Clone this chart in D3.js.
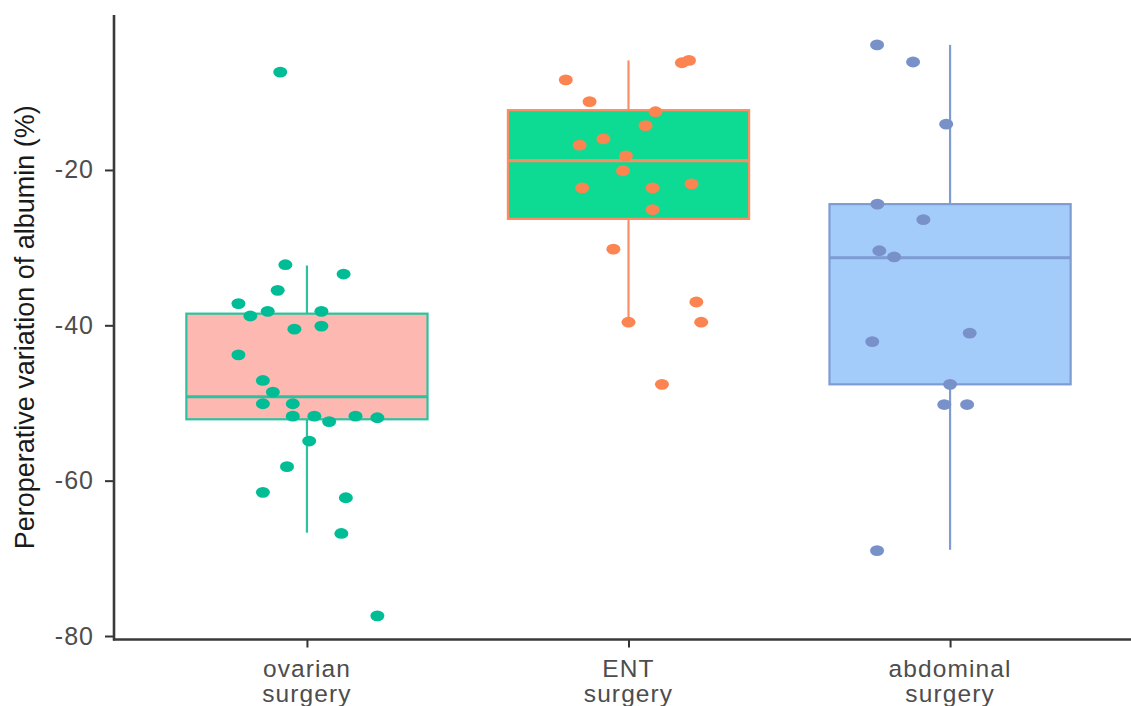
<!DOCTYPE html>
<html>
<head>
<meta charset="utf-8">
<script src="https://cdn.jsdelivr.net/npm/d3@7"></script>
<style>
  body { margin: 0; background: #ffffff; }
  svg { display: block; }
</style>
</head>
<body>
<svg id="chart" width="1131" height="706"></svg>
<script>
// Surgery groups on the x axis
const categories = ["ovarian surgery", "ENT surgery", "abdominal surgery"];
const categoryLines = [["ovarian", "surgery"], ["ENT", "surgery"], ["abdominal", "surgery"]];

// Individual patients: perioperative variation of albumin (%) and horizontal jitter (fraction of category step)
const ovarianValues = [-7.4, -32.2, -33.4, -35.5, -37.2, -38.8, -38.2, -38.2, -40.5, -40.1,
  -43.8, -47.1, -48.6, -50.1, -50.1, -51.7, -51.7, -52.4, -51.7, -51.9,
  -54.9, -58.2, -61.5, -62.2, -66.8, -77.4];
const ovarianJitter = [-0.083, -0.067, 0.114, -0.091, -0.213, -0.176, -0.122, 0.045, -0.039, 0.045,
  -0.213, -0.137, -0.106, -0.137, -0.044, -0.044, 0.023, 0.069, 0.151, 0.219,
  0.007, -0.062, -0.137, 0.121, 0.107, 0.219];

const entValues = [-8.4, -6.2, -5.9, -11.2, -12.5, -14.3, -16.0, -16.8, -18.2, -20.1,
  -22.3, -22.3, -21.8, -25.1, -30.2, -37.0, -39.6, -39.6, -47.6];
const entJitter = [-0.195, 0.166, 0.188, -0.121, 0.084, 0.053, -0.078, -0.152, -0.008, -0.017,
  -0.144, 0.075, 0.196, 0.075, -0.047, 0.211, 0.0, 0.226, 0.104];

const abdominalValues = [-3.9, -6.1, -14.1, -24.4, -26.4, -30.4, -31.2, -42.1, -41.0, -47.6,
  -50.2, -50.2, -69.0];
const abdominalJitter = [-0.227, -0.115, -0.012, -0.226, -0.083, -0.220, -0.174, -0.242, 0.061, 0.0,
  -0.018, 0.053, -0.227];

// Box statistics per group
const boxQ1 = [-52.1, -26.3, -47.6];
const boxMedian = [-49.2, -18.8, -31.3];
const boxQ3 = [-38.5, -12.3, -24.4];
const whiskerLow = [-66.7, -39.6, -68.9];
const whiskerHigh = [-32.3, -5.9, -3.9];

const yTicks = [-80, -60, -40, -20];
const yTitle = "Peroperative variation of albumin (%)";

// Group colours
const boxFill = ["#FDB8B2", "#0DDB94", "#A4CCFB"];
const boxStroke = ["#2CC29F", "#FC8D62", "#7E9BD2"];
const pointColor = ["#00BD96", "#FC8450", "#7892C9"];

const groups = [
  { values: ovarianValues, jitter: ovarianJitter },
  { values: entValues, jitter: entJitter },
  { values: abdominalValues, jitter: abdominalJitter }
];

const svg = d3.select("#chart");
const panel = { left: 114, top: 15, bottom: 639.5, right: 1143 };
const font = "'Liberation Sans', Arial, sans-serif";

const x = d3.scalePoint().domain(categories).range([panel.left, panel.right]).padding(0.6);
const y = d3.scaleLinear().domain([-80.45, -0.05]).range([panel.bottom, panel.top]);
const step = x.step();
const halfBox = 0.375 * step;

// Boxes and whiskers
const boxes = svg.append("g").attr("class", "boxes");
categories.forEach((c, i) => {
  const cx = x(c);
  const g = boxes.append("g");
  g.append("line")
    .attr("x1", cx).attr("x2", cx)
    .attr("y1", y(whiskerHigh[i])).attr("y2", y(boxQ3[i]))
    .attr("stroke", boxStroke[i]).attr("stroke-width", 2.2);
  g.append("line")
    .attr("x1", cx).attr("x2", cx)
    .attr("y1", y(boxQ1[i])).attr("y2", y(whiskerLow[i]))
    .attr("stroke", boxStroke[i]).attr("stroke-width", 2.2);
  g.append("rect")
    .attr("x", cx - halfBox).attr("width", 2 * halfBox)
    .attr("y", y(boxQ3[i])).attr("height", y(boxQ1[i]) - y(boxQ3[i]))
    .attr("fill", boxFill[i])
    .attr("stroke", boxStroke[i]).attr("stroke-width", 2.2);
  g.append("line")
    .attr("x1", cx - halfBox).attr("x2", cx + halfBox)
    .attr("y1", y(boxMedian[i])).attr("y2", y(boxMedian[i]))
    .attr("stroke", boxStroke[i]).attr("stroke-width", 3.2);
});

// Jittered patient points
const pts = svg.append("g").attr("class", "points");
groups.forEach((grp, i) => {
  const cx = x(categories[i]);
  pts.selectAll(null)
    .data(grp.values.map((v, k) => ({ v, j: grp.jitter[k] })))
    .enter().append("ellipse")
    .attr("cx", d => cx + d.j * step)
    .attr("cy", d => y(d.v))
    .attr("rx", 7)
    .attr("ry", 5.4)
    .attr("fill", pointColor[i]);
});

// Y axis (plain hyphen for negative numbers)
const yAxis = svg.append("g")
  .attr("transform", `translate(${panel.left},0)`)
  .call(d3.axisLeft(y).tickValues(yTicks).tickFormat(d => String(d))
    .tickSize(9).tickPadding(11).tickSizeOuter(0));
yAxis.select(".domain").remove();
yAxis.selectAll(".tick line").attr("stroke", "#333333").attr("stroke-width", 2);
yAxis.selectAll(".tick text")
  .attr("fill", "#4D4D4D")
  .style("font-family", font)
  .style("font-size", "25px")
  .style("letter-spacing", "1px");

// X axis
const xAxis = svg.append("g")
  .attr("transform", `translate(0,${panel.bottom})`)
  .call(d3.axisBottom(x).tickSize(8).tickSizeOuter(0));
xAxis.select(".domain").remove();
xAxis.selectAll(".tick line").attr("stroke", "#333333").attr("stroke-width", 2);
xAxis.selectAll(".tick text").remove();

// Axis lines
svg.append("line")
  .attr("x1", panel.left).attr("x2", panel.left)
  .attr("y1", panel.top).attr("y2", panel.bottom + 1)
  .attr("stroke", "#3A3A3A").attr("stroke-width", 2.6);
svg.append("line")
  .attr("x1", panel.left - 1).attr("x2", 1131)
  .attr("y1", panel.bottom).attr("y2", panel.bottom)
  .attr("stroke", "#3A3A3A").attr("stroke-width", 2.6);

// Two-line category labels
const xLabels = svg.append("g")
  .style("font-family", font)
  .style("font-size", "24.5px")
  .style("letter-spacing", "1.1px")
  .attr("fill", "#4D4D4D")
  .attr("text-anchor", "middle");
categories.forEach((c, i) => {
  categoryLines[i].forEach((line, k) => {
    xLabels.append("text")
      .attr("x", x(c))
      .attr("y", 676.5 + k * 25)
      .text(line);
  });
});

// Y axis title
svg.append("text")
  .attr("transform", `translate(34,${(panel.top + panel.bottom) / 2}) rotate(-90)`)
  .attr("text-anchor", "middle")
  .attr("fill", "#1A1A1A")
  .style("font-family", font)
  .style("font-size", "27px")
  .text(yTitle);
</script>
</body>
</html>
